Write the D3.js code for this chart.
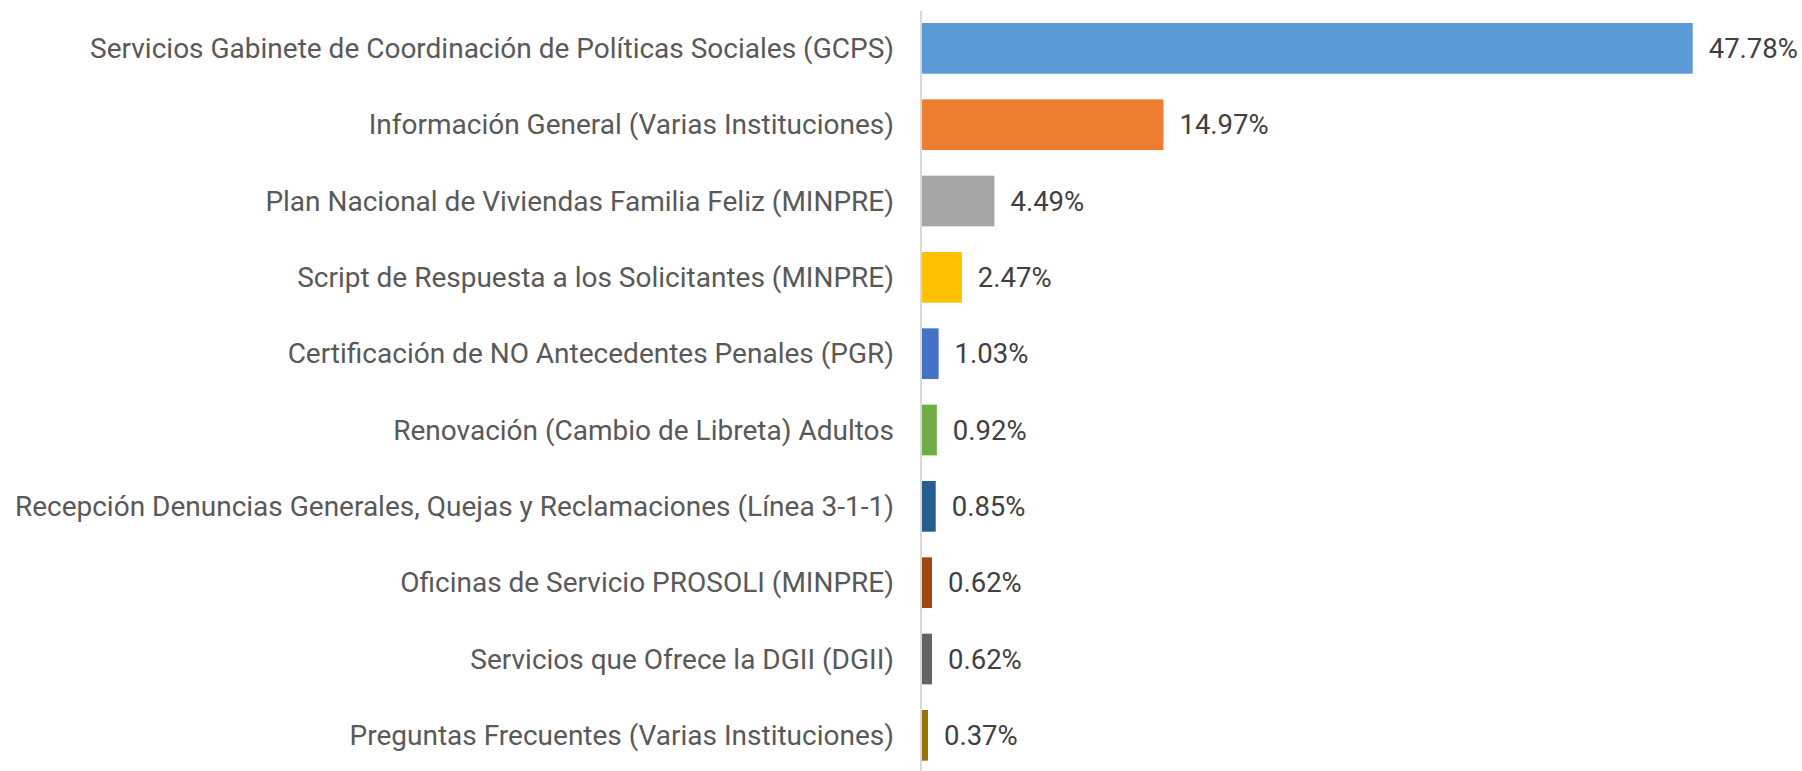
<!DOCTYPE html>
<html>
<head>
<meta charset="utf-8">
<script src="https://cdn.jsdelivr.net/npm/d3@7"></script>
<style>
  body { margin: 0; background: #fff; }
  svg { display: block; }
  .label { font-family: Roboto, sans-serif; font-size: 28px; fill: #595959; }
  .value { font-family: Roboto, sans-serif; font-size: 27.5px; fill: #404040; }
</style>
</head>
<body>
<div class="chart"></div>
<script>
var categories = [
    "Servicios Gabinete de Coordinación de Políticas Sociales (GCPS)",
    "Información General (Varias Instituciones)",
    "Plan Nacional de Viviendas Familia Feliz (MINPRE)",
    "Script de Respuesta a los Solicitantes (MINPRE)",
    "Certificación de NO Antecedentes Penales (PGR)",
    "Renovación (Cambio de Libreta) Adultos",
    "Recepción Denuncias Generales, Quejas y Reclamaciones (Línea 3-1-1)",
    "Oficinas de Servicio PROSOLI (MINPRE)",
    "Servicios que Ofrece la DGII (DGII)",
    "Preguntas Frecuentes (Varias Instituciones)"
];
var values = [47.78, 14.97, 4.49, 2.47, 1.03, 0.92, 0.85, 0.62, 0.62, 0.37];
var colors = ["#5B9BD5", "#ED7D31", "#A5A5A5", "#FFC000", "#4472C4",
    "#70AD47", "#255E91", "#9E480E", "#636363", "#997300"];

var width = 1802, height = 771;
var axisX = 921;

var svg = d3.select(".chart")
    .append("svg")
    .attr("width", width)
    .attr("height", height);

var x = d3.scaleLinear()
    .domain([0, 50])
    .range([axisX + 1, axisX + 1 + 806.5]);

var y = d3.scaleBand()
    .domain(categories)
    .range([10.2, 773.5])
    .paddingInner(0.336)
    .paddingOuter(0.168);

// bars
svg.selectAll(".bar")
    .data(values)
    .enter()
    .append("rect")
    .attr("class", "bar")
    .attr("x", x(0))
    .attr("y", function (d, i) { return y(categories[i]); })
    .attr("width", function (d) { return x(d) - x(0); })
    .attr("height", y.bandwidth())
    .style("fill", function (d, i) { return colors[i]; });

// vertical axis line
svg.append("line")
    .attr("x1", axisX)
    .attr("x2", axisX)
    .attr("y1", 11)
    .attr("y2", height)
    .attr("stroke", "#d9d9d9")
    .attr("stroke-width", 2);

// category labels
svg.selectAll(".label")
    .data(categories)
    .enter()
    .append("text")
    .attr("class", "label")
    .attr("x", axisX - 27)
    .attr("y", function (d) { return y(d) + y.bandwidth() / 2; })
    .attr("dy", "0.35em")
    .style("text-anchor", "end")
    .text(function (d) { return d; });

// value labels
svg.selectAll(".value")
    .data(values)
    .enter()
    .append("text")
    .attr("class", "value")
    .attr("x", function (d) { return x(d) + 16; })
    .attr("y", function (d, i) { return y(categories[i]) + y.bandwidth() / 2; })
    .attr("dy", "0.35em")
    .text(function (d) { return d.toFixed(2) + "%"; });
</script>
</body>
</html>
